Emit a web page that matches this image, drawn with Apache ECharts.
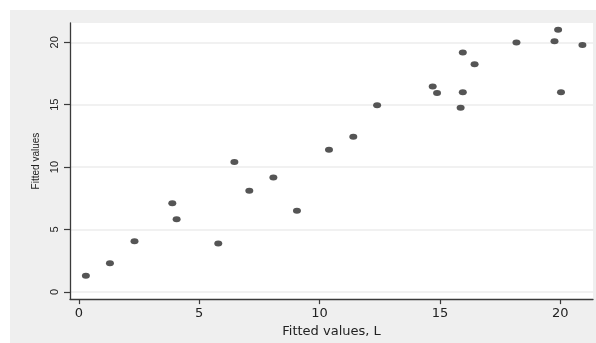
<!DOCTYPE html>
<html>
<head>
<meta charset="utf-8">
<script src="https://cdn.jsdelivr.net/npm/echarts@6/dist/echarts.min.js"></script>
<style>
html,body{margin:0;padding:0;background:#ffffff;}
#wrap{position:relative;width:596px;height:343px;background:#ffffff;overflow:hidden;}
#chart{position:absolute;left:10px;top:10px;width:586px;height:333px;}
</style>
</head>
<body>
<div id="wrap"><div id="chart"></div></div>
<script>
// Data
var xValues = [0.29, 1.29, 2.31, 3.88, 4.06, 5.79, 6.46, 7.08, 8.08, 9.06,
               10.39, 11.40, 12.39, 14.70, 14.88, 15.86, 15.95, 15.95, 16.44, 18.18,
               19.76, 19.91, 20.03, 20.92];
var yValues = [1.30, 2.30, 4.05, 7.10, 5.83, 3.87, 10.40, 8.10, 9.16, 6.51,
               11.40, 12.44, 14.95, 16.46, 15.93, 14.76, 16.00, 19.18, 18.25, 19.98,
               20.08, 21.00, 16.00, 19.79];
var xTicks = [0, 5, 10, 15, 20];
var yTicks = [0, 5, 10, 15, 20];
var xTitle = 'Fitted values, L';
var yTitle = 'Fitted values';

var points = xValues.map(function (x, i) { return [x, yValues[i]]; });

var chart = echarts.init(document.getElementById('chart'), null, {renderer: 'canvas'});
chart.setOption({
  backgroundColor: '#efefef',
  animation: false,
  grid: {
    left: 60, top: 13, right: 3, bottom: 41,
    show: true, backgroundColor: '#ffffff', borderWidth: 0
  },
  xAxis: {
    type: 'value',
    min: -0.37, max: 21.36,
    name: xTitle,
    nameLocation: 'middle',
    nameGap: 15,
    nameTextStyle: {fontFamily: 'DejaVu Sans', fontSize: 13, color: '#222'},
    axisLine: {show: true, onZero: false, lineStyle: {color: '#3a3a3a', width: 1.3}},
    axisTick: {show: true, length: 5, customValues: xTicks, lineStyle: {color: '#3a3a3a', width: 1.2}},
    axisLabel: {customValues: xTicks, margin: 8, fontFamily: 'DejaVu Sans', fontSize: 13, color: '#222'},
    splitLine: {show: false}
  },
  yAxis: {
    type: 'value',
    min: -0.58, max: 21.55,
    name: yTitle,
    nameLocation: 'middle',
    nameGap: 27,
    nameTextStyle: {fontFamily: 'Liberation Sans', fontSize: 10, color: '#222'},
    axisLine: {show: true, onZero: false, lineStyle: {color: '#3a3a3a', width: 1.3}},
    axisTick: {show: true, length: 6, customValues: yTicks, lineStyle: {color: '#3a3a3a', width: 1.2}},
    axisLabel: {customValues: yTicks, rotate: 90, margin: 10, fontFamily: 'Liberation Sans', fontSize: 11, color: '#222'},
    splitLine: {show: true, lineStyle: {color: '#ececec', width: 1.5}}
  },
  series: [{
    type: 'scatter',
    data: points,
    symbol: 'circle',
    symbolSize: [8, 6],
    itemStyle: {color: '#555555', opacity: 1}
  }]
});
</script>
</body>
</html>
